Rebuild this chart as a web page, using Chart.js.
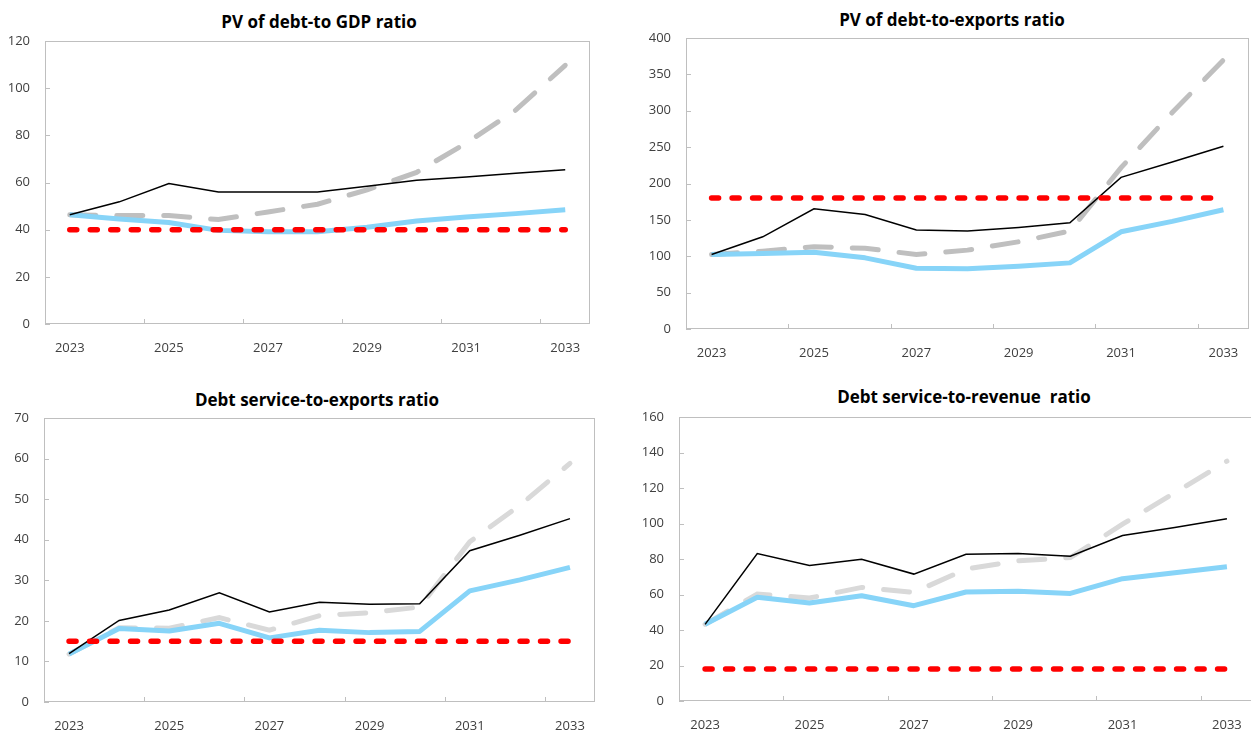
<!DOCTYPE html>
<html>
<head>
<meta charset="utf-8">
<script src="https://cdn.jsdelivr.net/npm/chart.js@4.4.1/dist/chart.umd.min.js"></script>
<style>
  html, body { margin: 0; padding: 0; background: #fff; overflow: hidden; }
  body { width: 1251px; height: 733px; position: relative; }
  canvas.layer { position: absolute; left: 0; top: 0; }
  .title { position: absolute; width: 420px; text-align: center; font-family: "Open Sans", sans-serif;
           font-weight: bold; font-size: 17px; color: #000; line-height: 20px; white-space: pre; }
</style>
</head>
<body>
<div class="title" id="t1"></div>
<div class="title" id="t2"></div>
<div class="title" id="t3"></div>
<div class="title" id="t4"></div>
<canvas class="layer" id="c1" width="1270" height="733"></canvas>
<canvas class="layer" id="c2" width="1270" height="733"></canvas>
<canvas class="layer" id="c3" width="1270" height="733"></canvas>
<canvas class="layer" id="c4" width="1270" height="733"></canvas>
<script>
// ---------- data ----------
const years = ["2023","2024","2025","2026","2027","2028","2029","2030","2031","2032","2033"];

const titles = ["PV of debt-to GDP ratio", "PV of debt-to-exports ratio",
                "Debt service-to-exports ratio", "Debt service-to-revenue  ratio"];

// PV of debt-to GDP ratio
const gdpBaseline   = [46.3, 51.8, 59.6, 56.0, 56.0, 56.0, 58.4, 61.0, 62.3, 63.9, 65.4];
const gdpHistorical = [46.3, 44.5, 43.0, 39.7, 39.1, 39.1, 41.0, 43.7, 45.4, 46.8, 48.4];
const gdpShock      = [46.3, 46.0, 46.0, 44.3, 47.5, 50.8, 56.9, 64.3, 76.7, 90.7, 109.7];
const gdpThreshold  = [40, 40, 40, 40, 40, 40, 40, 40, 40, 40, 40];

// PV of debt-to-exports ratio
const expBaseline   = [102.4, 126.7, 165.3, 157.5, 136.0, 134.6, 139.6, 146.0, 208.5, 229.6, 251.2];
const expHistorical = [102.4, 103.8, 105.6, 97.8, 83.6, 82.7, 86.3, 90.9, 133.6, 147.9, 163.9];
const expShock      = [102.4, 107.0, 113.0, 111.0, 102.4, 108.4, 119.9, 134.6, 221.8, 297.6, 369.7];
const expThreshold  = [180, 180, 180, 180, 180, 180, 180, 180, 180, 180, 180];

// Debt service-to-exports ratio
const dsxBaseline   = [11.9, 20.1, 22.7, 26.9, 22.2, 24.6, 24.1, 24.2, 37.3, 41.1, 45.2];
const dsxHistorical = [11.8, 18.1, 17.5, 19.4, 15.8, 17.7, 17.1, 17.4, 27.4, 30.1, 33.2];
const dsxShock      = [11.8, 18.3, 18.2, 20.8, 17.7, 21.3, 22.0, 23.4, 39.5, 48.5, 58.8];
const dsxThreshold  = [15, 15, 15, 15, 15, 15, 15, 15, 15, 15, 15];

// Debt service-to-revenue ratio
const dsrBaseline   = [43.2, 83.1, 76.3, 79.9, 71.5, 82.7, 83.1, 81.6, 93.2, 97.7, 102.7];
const dsrHistorical = [43.2, 58.4, 55.2, 59.3, 53.7, 61.4, 61.8, 60.6, 68.9, 72.2, 75.6];
const dsrShock      = [43.2, 60.3, 58.0, 64.0, 61.2, 74.3, 79.0, 80.8, 99.6, 117.3, 135.1];
const dsrThreshold  = [18, 18, 18, 18, 18, 18, 18, 18, 18, 18, 18];

const yMax  = [120, 400, 70, 160];
const yStep = [20, 50, 10, 20];

// ---------- layout ----------
const CW = 1270, CH = 733, YW = 40, XH = 28;
const plots = [
  {l: 45,  t: 41,  r: 590,  b: 324, tx: 319, ty: 22},
  {l: 686, t: 38,  r: 1249, b: 329, tx: 952, ty: 20},
  {l: 44,  t: 418, r: 595,  b: 702, tx: 317, ty: 400},
  {l: 679, t: 417, r: 1253, b: 701, tx: 964, ty: 397}
];
const shockColors = ["#bfbfbf", "#bfbfbf", "#d9d9d9", "#d9d9d9"];

const FONT = '"Open Sans", sans-serif';

const framePlugin = {
  id: 'frame',
  beforeDatasetsDraw(chart) {
    const {ctx, chartArea: a, scales} = chart;
    const x = scales.x, y = scales.y;
    ctx.save();
    ctx.strokeStyle = '#bfbfbf';
    ctx.lineWidth = 1;
    ctx.strokeRect(Math.round(a.left) + 0.5, Math.round(a.top) + 0.5,
                   Math.round(a.right - a.left) - 1, Math.round(a.bottom - a.top) - 1);
    ctx.beginPath();
    y.ticks.forEach((t, i) => {
      const py = Math.round(y.getPixelForTick(i)) + 0.5;
      ctx.moveTo(a.left, py); ctx.lineTo(a.left + 5, py);
    });
    for (let k = 2; k < years.length; k += 2) {
      const px = Math.round((x.getPixelForTick(k - 1) + x.getPixelForTick(k)) / 2) + 0.5;
      ctx.moveTo(px, a.bottom); ctx.lineTo(px, a.bottom - 5);
    }
    ctx.stroke();
    ctx.restore();
  }
};

function makeChart(idx, base, hist, shock, thr) {
  const p = plots[idx];
  const tEl = document.getElementById('t' + (idx + 1));
  tEl.textContent = titles[idx];
  tEl.style.left = (p.tx - 210) + 'px';
  tEl.style.top = (p.ty - 10) + 'px';

  new Chart(document.getElementById('c' + (idx + 1)), {
    type: 'line',
    data: {
      labels: years,
      datasets: [
        {label: 'Threshold', data: thr, borderColor: '#ff0000', borderWidth: 5.5,
         borderDash: [7, 13.5], borderCapStyle: 'round', pointRadius: 0, fill: false},
        {label: 'Baseline', data: base, borderColor: '#000000', borderWidth: 1.5,
         pointRadius: 0, fill: false},
        {label: 'Historical scenario', data: hist, borderColor: '#87d4f8', borderWidth: 5,
         pointRadius: 0, fill: false, borderJoinStyle: 'round'},
        {label: 'Most extreme shock', data: shock, borderColor: shockColors[idx], borderWidth: 5,
         borderDash: [26, 21], borderCapStyle: 'round', pointRadius: 0, fill: false}
      ]
    },
    options: {
      responsive: false,
      animation: false,
      devicePixelRatio: 1,
      clip: false,
      layout: {padding: {left: p.l - YW, top: p.t, right: CW - p.r, bottom: CH - p.b - XH}},
      plugins: {legend: {display: false}, title: {display: false}, tooltip: {enabled: false}},
      scales: {
        x: {
          type: 'category',
          offset: true,
          grid: {display: false, drawTicks: false},
          border: {display: false},
          ticks: {
            autoSkip: false, maxRotation: 0, padding: 16,
            color: '#404040', font: {family: FONT, size: 13},
            callback: function(v, i) { return i % 2 === 0 ? this.getLabelForValue(v) : ''; }
          },
          afterFit: s => { s.height = XH; }
        },
        y: {
          min: 0, max: yMax[idx],
          grid: {display: false, drawTicks: false},
          border: {display: false},
          ticks: {stepSize: yStep[idx], padding: 15, color: '#404040', font: {family: FONT, size: 13}},
          afterFit: s => { s.width = YW; }
        }
      }
    },
    plugins: [framePlugin]
  });
}

makeChart(0, gdpBaseline, gdpHistorical, gdpShock, gdpThreshold);
makeChart(1, expBaseline, expHistorical, expShock, expThreshold);
makeChart(2, dsxBaseline, dsxHistorical, dsxShock, dsxThreshold);
makeChart(3, dsrBaseline, dsrHistorical, dsrShock, dsrThreshold);
</script>
</body>
</html>
